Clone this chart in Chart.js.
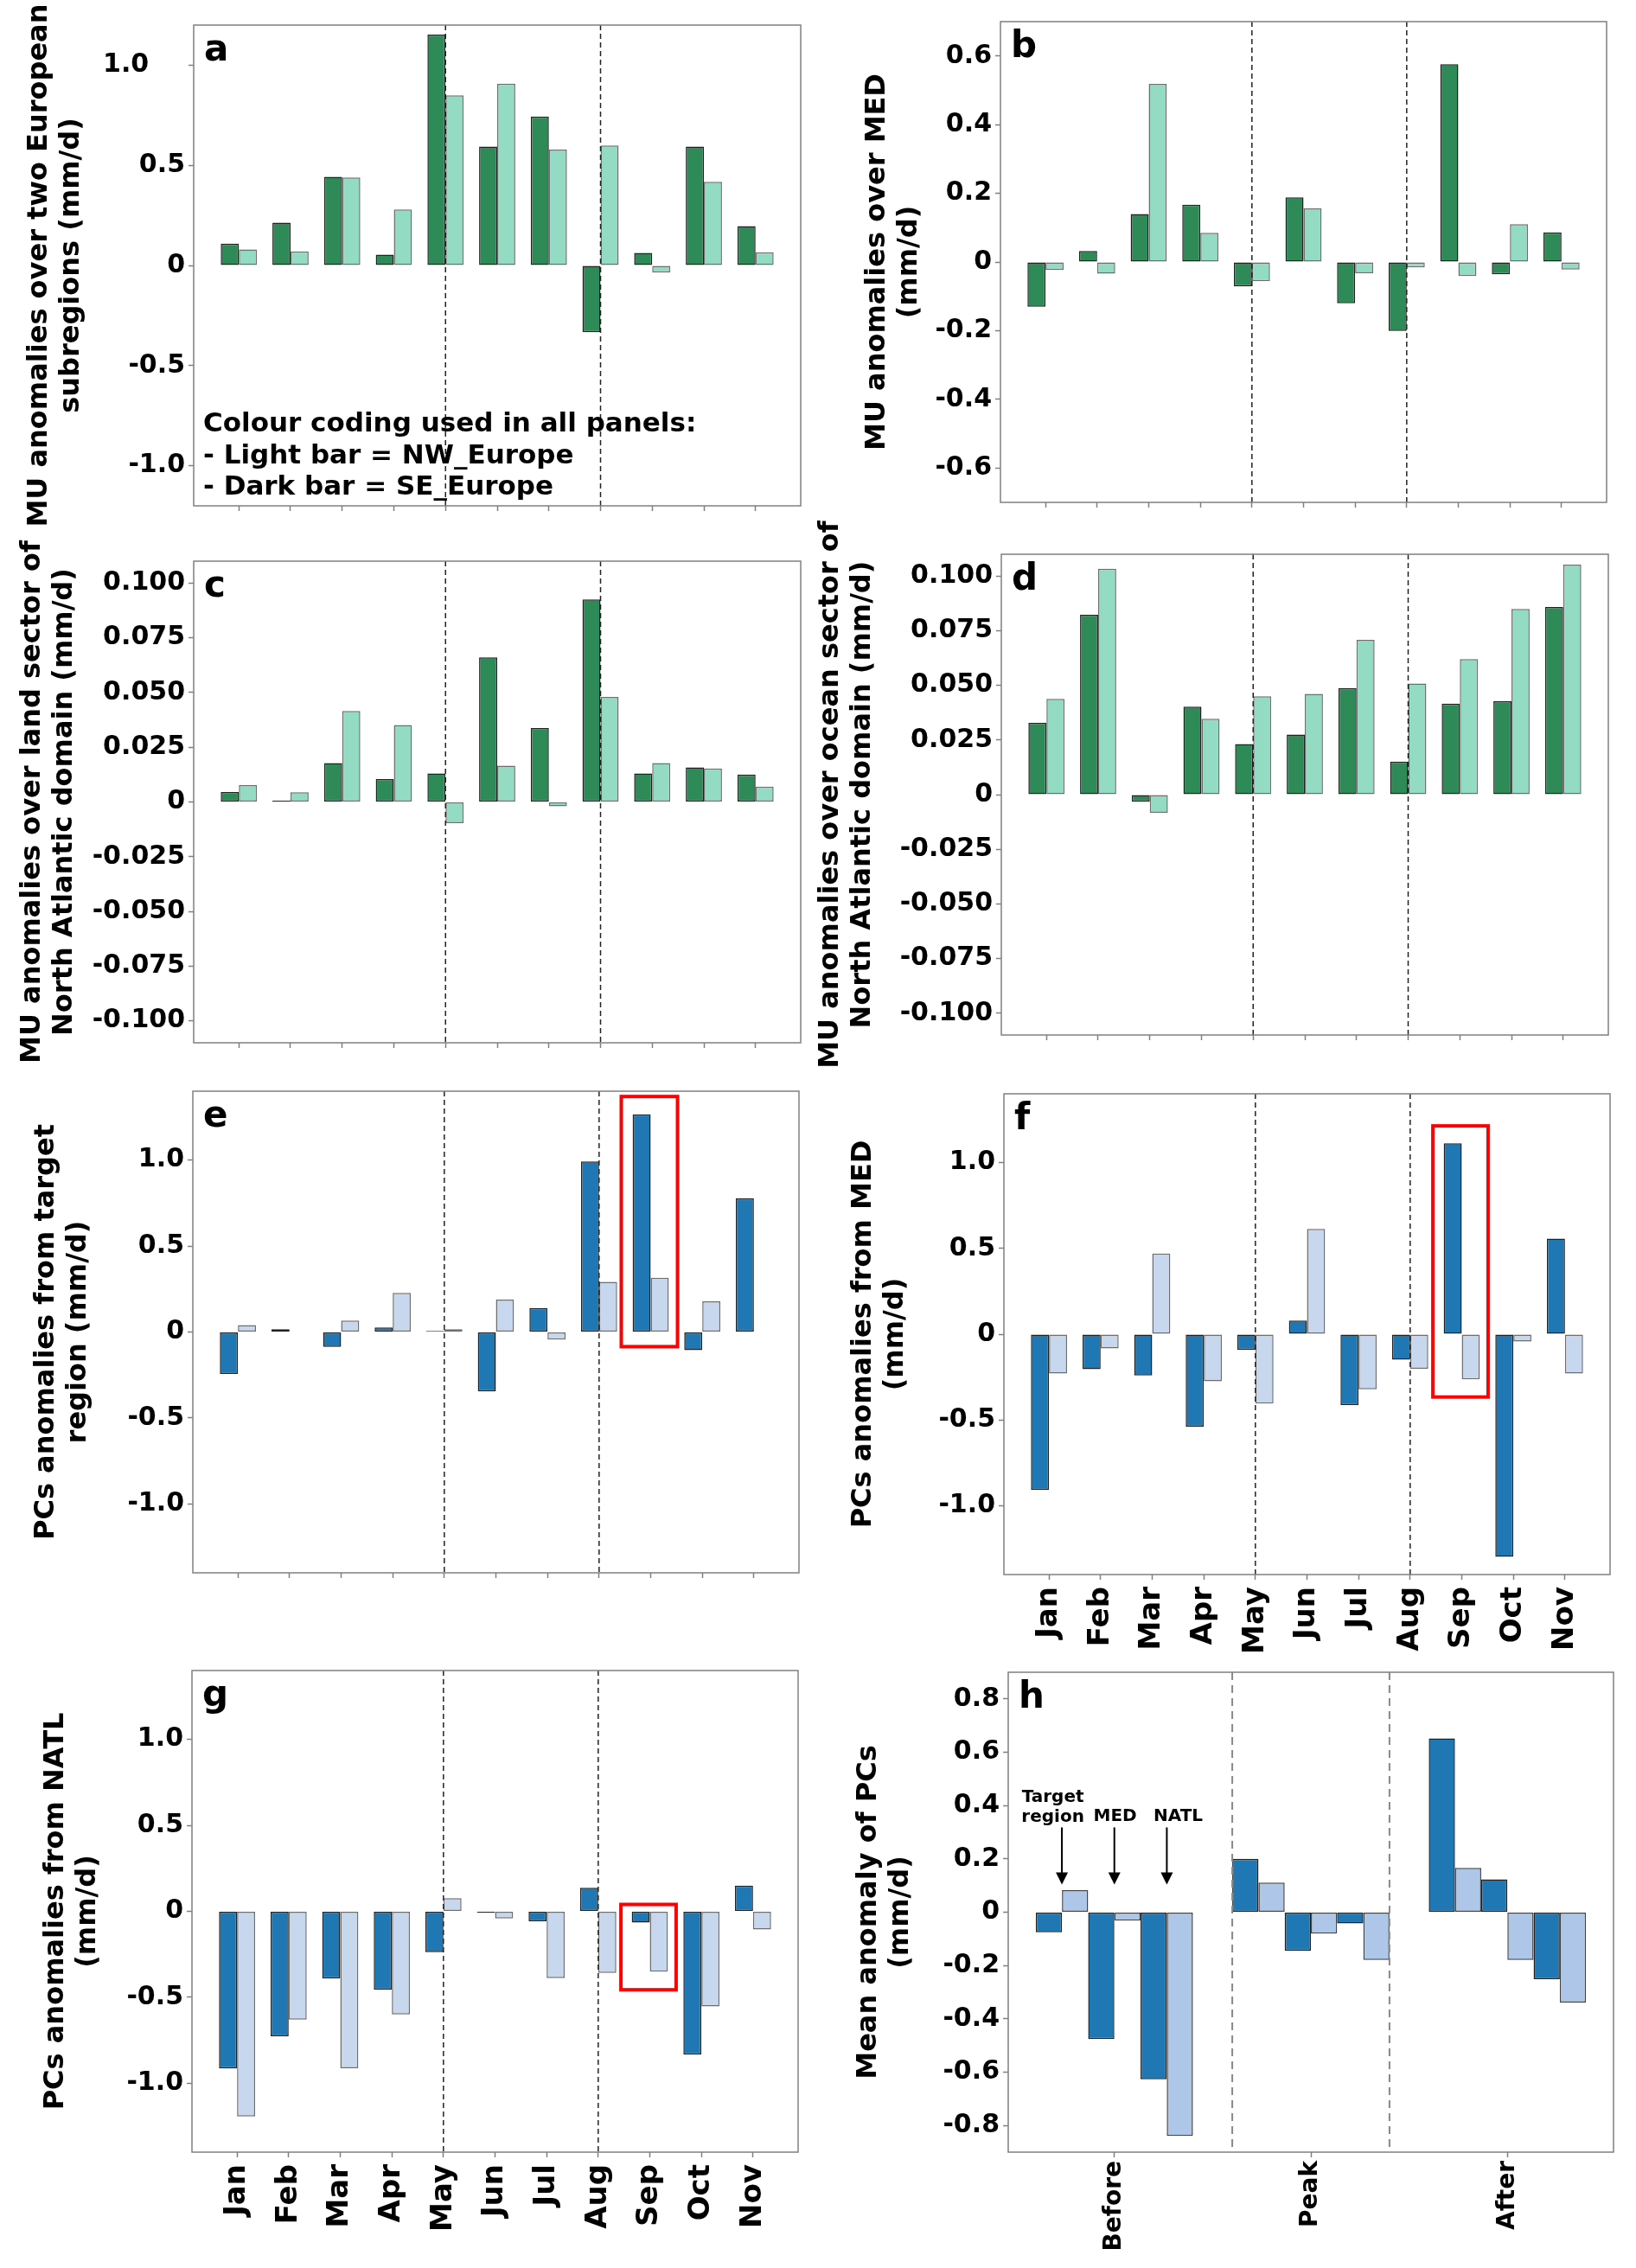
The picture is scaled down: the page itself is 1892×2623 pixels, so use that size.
<!DOCTYPE html>
<html>
<head>
<meta charset="utf-8">
<script src="https://cdn.jsdelivr.net/npm/chart.js@4.4.1/dist/chart.umd.min.js"></script>
<style>
  html, body { margin: 0; padding: 0; background: #fff; }
  #page { position: relative; width: 1892px; height: 2623px; overflow: hidden; background: #fff; }
  canvas { position: absolute; }
</style>
</head>
<body>
<div id="page"></div>
<script>
// categories
const months = ['Jan', 'Feb', 'Mar', 'Apr', 'May', 'Jun', 'Jul', 'Aug', 'Sep', 'Oct', 'Nov'];
const phases = ['Before', 'Peak', 'After'];

// panel a - MU over the two European subregions
const muEuropeSE = [0.109, 0.214, 0.442, 0.054, 1.153, 0.594, 0.743, -0.333, 0.063, 0.594, 0.196];
const muEuropeNW = [0.080, 0.070, 0.439, 0.279, 0.849, 0.908, 0.578, 0.599, -0.036, 0.418, 0.066];
// panel b - MU over MED
const muMedSE = [-0.130, 0.032, 0.140, 0.167, -0.071, 0.188, -0.120, -0.201, 0.576, -0.036, 0.086];
const muMedNW = [-0.023, -0.034, 0.519, 0.085, -0.056, 0.156, -0.033, -0.016, -0.041, 0.110, -0.022];
// panel c - MU over land sector of North Atlantic
const muLandSE = [0.0045, 0.0006, 0.0178, 0.0105, 0.0130, 0.0661, 0.0338, 0.0925, 0.0130, 0.0158, 0.0125];
const muLandNW = [0.0077, 0.0044, 0.0416, 0.0352, -0.0097, 0.0166, -0.0020, 0.0480, 0.0178, 0.0153, 0.0070];
// panel d - MU over ocean sector of North Atlantic
const muOceanSE = [0.0328, 0.0823, -0.0033, 0.0403, 0.0231, 0.0275, 0.0488, 0.0150, 0.0416, 0.0427, 0.0859];
const muOceanNW = [0.0438, 0.1034, -0.0083, 0.0347, 0.0450, 0.0461, 0.0708, 0.0508, 0.0620, 0.0850, 0.1053];
// panel e - PCs from target region
const pcTargetSE = [-0.244, 0.016, -0.087, 0.026, 0.006, -0.345, 0.139, 0.992, 1.266, -0.105, 0.778];
const pcTargetNW = [0.040, -0.002, 0.067, 0.228, 0.016, 0.188, -0.044, 0.292, 0.315, 0.179, -0.002];
// panel f - PCs from MED
const pcMedSE = [-0.906, -0.204, -0.240, -0.539, -0.092, 0.079, -0.413, -0.148, 1.112, -1.297, 0.557];
const pcMedNW = [-0.229, -0.083, 0.470, -0.274, -0.404, 0.613, -0.321, -0.202, -0.263, -0.043, -0.229];
// panel g - PCs from NATL
const pcNatlSE = [-0.914, -0.726, -0.391, -0.456, -0.237, -0.007, -0.058, 0.137, -0.065, -0.833, 0.149];
const pcNatlNW = [-1.193, -0.630, -0.912, -0.600, 0.077, -0.042, -0.388, -0.358, -0.351, -0.553, -0.105];
// panel h - mean anomaly of PCs (Before, Peak, After)
const meanTargetSE = [-0.075, 0.200, 0.652];
const meanTargetNW = [0.083, 0.111, 0.166];
const meanMedSE = [-0.476, -0.145, 0.123];
const meanMedNW = [-0.032, -0.080, -0.179];
const meanNatlSE = [-0.627, -0.042, -0.251];
const meanNatlNW = [-0.839, -0.179, -0.339];

// y ticks
const ticksEurope = [-1.0, -0.5, 0, 0.5, 1.0];
const tickLabelsEurope = ['-1.0', '-0.5', '0', '0.5', '1.0    '];
const ticksMed = [-0.6, -0.4, -0.2, 0, 0.2, 0.4, 0.6];
const tickLabelsMed = ['-0.6', '-0.4', '-0.2', '0', '0.2', '0.4', '0.6'];
const ticksNatl = [-0.1, -0.075, -0.05, -0.025, 0, 0.025, 0.05, 0.075, 0.1];
const tickLabelsNatl = ['-0.100', '-0.075', '-0.050', '-0.025', '0', '0.025', '0.050', '0.075', '0.100'];
const ticksPc = [-1.0, -0.5, 0, 0.5, 1.0];
const tickLabelsPc = ['-1.0', '-0.5', '0', '0.5', '1.0'];
const ticksMean = [-0.8, -0.6, -0.4, -0.2, 0, 0.2, 0.4, 0.6, 0.8];
const tickLabelsMean = ['-0.8', '-0.6', '-0.4', '-0.2', '0', '0.2', '0.4', '0.6', '0.8'];

const FONT = "'DejaVu Sans'";
const greenDark = '#2e8b57', greenLight = '#93dbc3';
const blueDark = '#1f77b4', blueLight = '#c6d7ee', blueLightH = '#aec7e8';

Chart.defaults.font.family = FONT;

const panelDecor = {
    id: 'panelDecor',
    afterDatasetsDraw(chart, args, o) {
        const {ctx, chartArea: a, scales: {x, y}} = chart;
        ctx.save();
        // dashed separators
        ctx.setLineDash(o.dash);
        ctx.strokeStyle = o.dashColor;
        ctx.lineWidth = o.dashWidth;
        o.splits.forEach(v => {
            const px = x.getPixelForValue(v);
            ctx.beginPath();
            ctx.moveTo(px, a.top);
            ctx.lineTo(px, a.bottom);
            ctx.stroke();
        });
        ctx.setLineDash([]);
        // red highlight box
        if (o.box) {
            const x1 = x.getPixelForValue(o.box.x[0]), x2 = x.getPixelForValue(o.box.x[1]);
            const y1 = y.getPixelForValue(o.box.y[1]), y2 = y.getPixelForValue(o.box.y[0]);
            ctx.strokeStyle = '#ff0000';
            ctx.lineWidth = 4;
            ctx.strokeRect(x1, y1, x2 - x1, y2 - y1);
        }
        // arrows
        (o.arrows || []).forEach(ar => {
            const px = x.getPixelForValue(ar.x);
            const p1 = y.getPixelForValue(ar.from), p2 = y.getPixelForValue(ar.to);
            ctx.strokeStyle = '#000';
            ctx.fillStyle = '#000';
            ctx.lineWidth = 2;
            ctx.beginPath();
            ctx.moveTo(px, p1);
            ctx.lineTo(px, p2 - 12);
            ctx.stroke();
            ctx.beginPath();
            ctx.moveTo(px - 7, p2 - 14);
            ctx.lineTo(px + 7, p2 - 14);
            ctx.lineTo(px, p2);
            ctx.closePath();
            ctx.fill();
        });
        // text notes
        ctx.fillStyle = '#000';
        ctx.textBaseline = 'alphabetic';
        (o.notes || []).forEach(n => {
            ctx.font = n.font;
            ctx.textAlign = n.align;
            ctx.fillText(n.text, x.getPixelForValue(n.x), y.getPixelForValue(n.y));
        });
        // frame
        ctx.strokeStyle = '#808080';
        ctx.lineWidth = 1.5;
        ctx.strokeRect(a.left, a.top, a.right - a.left, a.bottom - a.top);
        // panel letter
        ctx.font = 'bold 42px ' + FONT;
        ctx.textAlign = 'left';
        ctx.fillText(o.letter, a.left + 12, a.top + 41);
        ctx.restore();
    }
};

function panel(cfg) {
    const [x0, y0, x1, y1] = cfg.box;
    const [L, T, R, B] = cfg.plot;
    const c = document.createElement('canvas');
    c.width = x1 - x0;
    c.height = y1 - y0;
    c.style.left = x0 + 'px';
    c.style.top = y0 + 'px';
    document.getElementById('page').appendChild(c);

    const tickGrid = {
        drawOnChartArea: false, drawTicks: true, tickLength: 6,
        tickWidth: 1.5, tickColor: '#808080', color: '#808080'
    };

    new Chart(c, {
        type: 'bar',
        data: {
            datasets: cfg.series.map(s => ({
                data: s.values.map((v, i) => ({x: i, y: v})),
                backgroundColor: s.color,
                borderColor: s.edge,
                borderWidth: 1.5,
                borderSkipped: false,
                categoryPercentage: cfg.groupWidth,
                barPercentage: 1.0
            }))
        },
        options: {
            responsive: false,
            animation: false,
            devicePixelRatio: 1,
            layout: {padding: {left: 0, top: T - y0, right: x1 - R, bottom: y1 - B - cfg.xh}},
            plugins: {
                legend: {display: false},
                tooltip: {enabled: false},
                panelDecor: {
                    letter: cfg.letter, splits: cfg.splits, dash: cfg.dash,
                    dashColor: cfg.dashColor, dashWidth: cfg.dashWidth,
                    box: cfg.redBox, notes: cfg.notes, arrows: cfg.arrows
                }
            },
            scales: {
                x: {
                    type: 'linear', offset: false, bounds: 'data',
                    min: cfg.xRange[0], max: cfg.xRange[1],
                    grid: Object.assign({offset: false}, tickGrid),
                    border: {display: false},
                    afterBuildTicks: s => { s.ticks = cfg.labels.map((l, i) => ({value: i})); },
                    ticks: {
                        display: cfg.showX, autoSkip: false, maxRotation: 90, minRotation: 90,
                        padding: cfg.xPad, color: '#000',
                        font: {size: cfg.xFont, weight: 'bold'},
                        callback: v => cfg.labels[v]
                    },
                    afterFit: s => { s.height = cfg.xh; }
                },
                y: {
                    type: 'linear', bounds: 'data',
                    min: cfg.yRange[0], max: cfg.yRange[1],
                    grid: tickGrid,
                    border: {display: false},
                    afterBuildTicks: s => { s.ticks = cfg.yTicks.map(v => ({value: v})); },
                    ticks: {
                        padding: 4, color: '#000',
                        font: {size: 30, weight: 'bold', lineHeight: 1.2},
                        callback: (v, i) => cfg.yLabels[i]
                    },
                    title: {
                        display: true, text: cfg.title, color: '#000',
                        font: {size: 32, weight: 'bold', lineHeight: 1.16},
                        padding: {top: cfg.titlePad, bottom: 0}
                    },
                    afterFit: s => { s.width = L - x0; }
                }
            }
        },
        plugins: [panelDecor]
    });
}

const monthRange = [-0.874, 10.874];
const monthCommon = {
    labels: months, xRange: monthRange, groupWidth: 0.7,
    splits: [4, 7], dash: [6, 4], dashColor: '#222', dashWidth: 1.5,
    xFont: 34, xPad: 8
};

panel(Object.assign({}, monthCommon, {
    letter: 'a', box: [0, 0, 946, 650], plot: [224, 29, 926, 585], xh: 8, showX: false,
    series: [{values: muEuropeSE, color: greenDark, edge: '#222'},
             {values: muEuropeNW, color: greenLight, edge: '#6e6e6e'}],
    yRange: [-1.2, 1.2], yTicks: ticksEurope, yLabels: tickLabelsEurope,
    title: ['MU anomalies over two European', 'subregions (mm/d)'], titlePad: 27,
    notes: [
        {text: 'Colour coding used in all panels:', x: -0.69, y: -0.829, align: 'left', font: 'bold 31px ' + FONT},
        {text: '- Light bar = NW_Europe', x: -0.69, y: -0.988, align: 'left', font: 'bold 31px ' + FONT},
        {text: '- Dark bar = SE_Europe', x: -0.69, y: -1.144, align: 'left', font: 'bold 31px ' + FONT}
    ]
}));

panel(Object.assign({}, monthCommon, {
    letter: 'b', box: [946, 0, 1892, 650], plot: [1157, 25, 1858, 581], xh: 8, showX: false,
    series: [{values: muMedSE, color: greenDark, edge: '#222'},
             {values: muMedNW, color: greenLight, edge: '#6e6e6e'}],
    yRange: [-0.7, 0.7], yTicks: ticksMed, yLabels: tickLabelsMed,
    title: ['MU anomalies over MED', '(mm/d)'], titlePad: 50
}));

panel(Object.assign({}, monthCommon, {
    letter: 'c', box: [0, 590, 946, 1260], plot: [224, 649, 926, 1206], xh: 8, showX: false,
    series: [{values: muLandSE, color: greenDark, edge: '#222'},
             {values: muLandNW, color: greenLight, edge: '#6e6e6e'}],
    yRange: [-0.11, 0.11], yTicks: ticksNatl, yLabels: tickLabelsNatl,
    title: ['MU anomalies over land sector of', 'North Atlantic domain (mm/d)'], titlePad: 19
}));

panel(Object.assign({}, monthCommon, {
    letter: 'd', box: [940, 580, 1892, 1260], plot: [1158, 641, 1860, 1197], xh: 8, showX: false,
    series: [{values: muOceanSE, color: greenDark, edge: '#222'},
             {values: muOceanNW, color: greenLight, edge: '#6e6e6e'}],
    yRange: [-0.11, 0.11], yTicks: ticksNatl, yLabels: tickLabelsNatl,
    title: ['MU anomalies over ocean sector of', 'North Atlantic domain (mm/d)'], titlePad: 2
}));

panel(Object.assign({}, monthCommon, {
    letter: 'e', box: [0, 1205, 946, 1880], plot: [223, 1262, 924, 1819], xh: 8, showX: false,
    series: [{values: pcTargetSE, color: blueDark, edge: '#222'},
             {values: pcTargetNW, color: blueLight, edge: '#6e6e6e'}],
    yRange: [-1.4, 1.4], yTicks: ticksPc, yLabels: tickLabelsPc,
    title: ['PCs anomalies from target', 'region (mm/d)'], titlePad: 35,
    redBox: {x: [7.43, 8.52], y: [-0.085, 1.369]}
}));

panel(Object.assign({}, monthCommon, {
    letter: 'f', box: [946, 1205, 1892, 1925], plot: [1161, 1265, 1862, 1821], xh: 104, showX: true,
    series: [{values: pcMedSE, color: blueDark, edge: '#222'},
             {values: pcMedNW, color: blueLight, edge: '#6e6e6e'}],
    yRange: [-1.4, 1.4], yTicks: ticksPc, yLabels: tickLabelsPc,
    title: ['PCs anomalies from MED', '(mm/d)'], titlePad: 34,
    redBox: {x: [7.44, 8.51], y: [-0.366, 1.213]}
}));

panel(Object.assign({}, monthCommon, {
    letter: 'g', box: [0, 1870, 946, 2623], plot: [222, 1932, 923, 2489], xh: 134, showX: true,
    series: [{values: pcNatlSE, color: blueDark, edge: '#222'},
             {values: pcNatlNW, color: blueLight, edge: '#6e6e6e'}],
    yRange: [-1.4, 1.4], yTicks: ticksPc, yLabels: tickLabelsPc,
    title: ['PCs anomalies from NATL', '(mm/d)'], titlePad: 46,
    redBox: {x: [7.44, 8.51], y: [-0.456, 0.040]}
}));

panel({
    letter: 'h', box: [946, 1880, 1892, 2623], plot: [1166, 1934, 1866, 2489], xh: 134, showX: true,
    labels: phases, xRange: [-0.54, 2.54], groupWidth: 0.8,
    splits: [0.6, 1.4], dash: [9, 6], dashColor: '#888', dashWidth: 2,
    xFont: 28, xPad: 4,
    series: [{values: meanTargetSE, color: blueDark, edge: '#222'},
             {values: meanTargetNW, color: blueLightH, edge: '#444'},
             {values: meanMedSE, color: blueDark, edge: '#222'},
             {values: meanMedNW, color: blueLightH, edge: '#444'},
             {values: meanNatlSE, color: blueDark, edge: '#222'},
             {values: meanNatlNW, color: blueLightH, edge: '#444'}],
    yRange: [-0.9, 0.9], yTicks: ticksMean, yLabels: tickLabelsMean,
    title: ['Mean anomaly of PCs', '(mm/d)'], titlePad: 40,
    arrows: [{x: -0.267, from: 0.318, to: 0.104}, {x: 0, from: 0.318, to: 0.104}, {x: 0.267, from: 0.318, to: 0.104}],
    notes: [
        {text: 'Target', x: -0.313, y: 0.414, align: 'center', font: 'bold 20px ' + FONT},
        {text: 'region', x: -0.313, y: 0.338, align: 'center', font: 'bold 20px ' + FONT},
        {text: 'MED', x: 0.004, y: 0.342, align: 'center', font: 'bold 20px ' + FONT},
        {text: 'NATL', x: 0.325, y: 0.342, align: 'center', font: 'bold 20px ' + FONT}
    ]
});
</script>
</body>
</html>
